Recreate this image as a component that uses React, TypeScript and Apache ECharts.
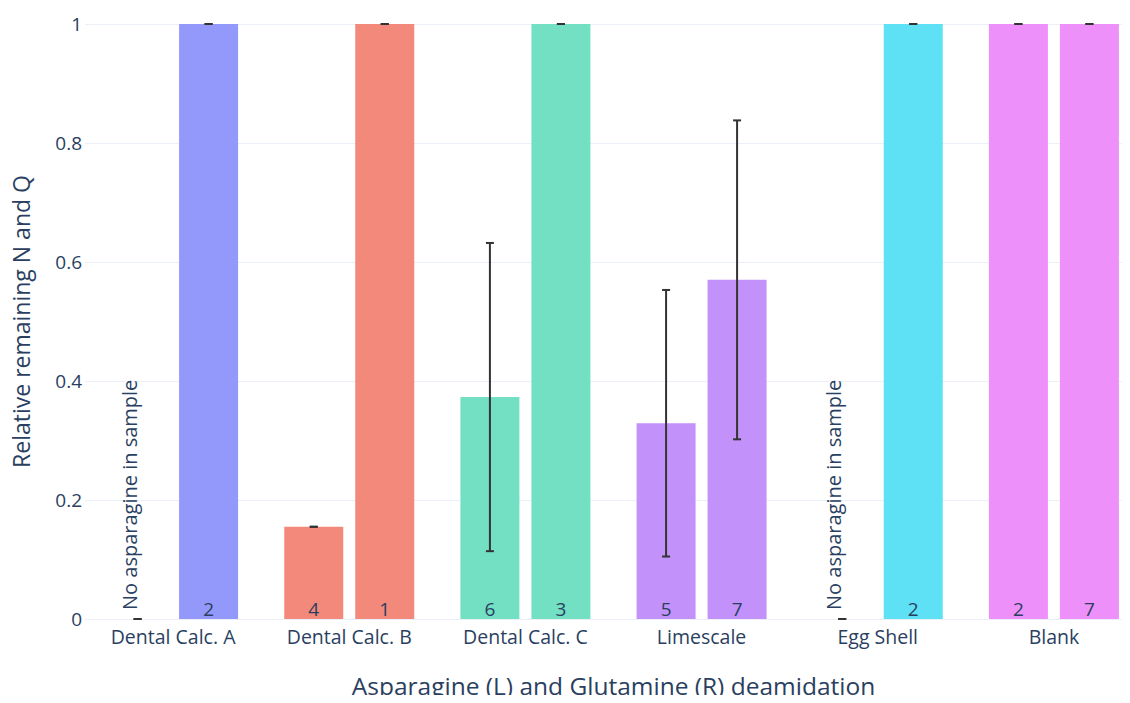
import React, { useEffect, useRef } from "react";
import * as echarts from "echarts";

const categories = ["Dental Calc. A", "Dental Calc. B", "Dental Calc. C", "Limescale", "Egg Shell", "Blank"];
const asnValues = [0, 0.155, 0.373, 0.329, 0, 1];
const asnErrors = [0, 0, 0.259, 0.224, 0, 0];
const asnCounts = ["", "4", "6", "5", "", "2"];
const glnValues = [1, 1, 1, 0.57, 1, 1];
const glnErrors = [0, 0, 0, 0.268, 0, 0];
const glnCounts = ["2", "1", "3", "7", "2", "7"];
const noAsnText = "No asparagine in sample";
const barColors = ["#9399fb", "#f2897a", "#73e0c4", "#c391fa", "#5ee1f5", "#ee90fa"];
const yTicks = [0, 0.2, 0.4, 0.6, 0.8, 1];

const FONT = "Open Sans";
const TEXT = "#2a3f5f";
const BAR_W = 59;
const BAR_GAP = 12;

export default function App() {
  const ref = useRef<HTMLDivElement>(null);
  useEffect(() => {
    if (!ref.current) return;
    const chart = echarts.init(ref.current, undefined, { renderer: "svg" });
    const offset = (BAR_W + BAR_GAP) / 2;

    const makeErr = (vals: number[], errs: number[], dir: number) => ({
      type: "custom",
      silent: true,
      z: 10,
      data: vals.map((v, i) => [i, v, errs[i]]),
      renderItem: (params: any, api: any) => {
        const i = api.value(0);
        const v = api.value(1);
        const e = api.value(2);
        const top = api.coord([i, v + e]);
        const bot = api.coord([i, Math.max(0, v - e)]);
        const x = top[0] + dir * offset;
        const cap = 4;
        const style = { stroke: "#333", lineWidth: 2 };
        return {
          type: "group",
          children: [
            { type: "line", shape: { x1: x, y1: top[1], x2: x, y2: bot[1] }, style },
            { type: "line", shape: { x1: x - cap, y1: top[1], x2: x + cap, y2: top[1] }, style },
            { type: "line", shape: { x1: x - cap, y1: bot[1], x2: x + cap, y2: bot[1] }, style },
          ],
        };
      },
    });

    const countLabel = {
      show: true,
      position: "insideBottom",
      distance: 1,
      color: TEXT,
      fontFamily: FONT,
      fontSize: 19,
    };

    chart.setOption({
      animation: false,
      grid: { left: 85, width: 1057, top: 24, height: 595, outerBoundsMode: "none", containLabel: false },
      xAxis: {
        type: "category",
        data: categories,
        axisLine: { show: true, lineStyle: { color: "#ebf0f8" } },
        axisTick: { show: false },
        axisLabel: { color: TEXT, fontFamily: FONT, fontSize: 19.5, margin: 7 },
        name: "Asparagine (L) and Glutamine (R) deamidation",
        nameLocation: "middle",
        nameGap: 53,
        nameTextStyle: { color: TEXT, fontFamily: FONT, fontSize: 24.5, lineHeight: 26 },
      },
      yAxis: {
        type: "value",
        min: 0,
        max: 1,
        interval: 0.2,
        axisLine: { show: false },
        axisTick: { show: false },
        splitLine: { lineStyle: { color: "#ebf0f8", width: 1 } },
        axisLabel: {
          color: TEXT,
          fontFamily: FONT,
          fontSize: 19,
          margin: 3,
          formatter: (v: number) => {
            const t = yTicks.find((k) => Math.abs(k - v) < 1e-9);
            return t === undefined ? "" : String(t);
          },
        },
        name: "Relative remaining N and Q",
        nameLocation: "middle",
        nameGap: 53,
        nameTextStyle: { color: TEXT, fontFamily: FONT, fontSize: 23 },
      },
      series: [
        {
          type: "bar",
          barWidth: BAR_W,
          barGap: `${(BAR_GAP / BAR_W) * 100}%`,
          data: asnValues.map((v, i) => ({
            value: v,
            itemStyle: { color: barColors[i] },
            label:
              asnCounts[i] === ""
                ? {
                    show: true,
                    formatter: noAsnText,
                    rotate: 90,
                    position: [21, -9],
                    align: "left",
                    verticalAlign: "middle",
                    color: TEXT,
                    fontFamily: FONT,
                    fontSize: 20,
                  }
                : { ...countLabel, formatter: asnCounts[i] },
          })),
        },
        {
          type: "bar",
          barWidth: BAR_W,
          data: glnValues.map((v, i) => ({
            value: v,
            itemStyle: { color: barColors[i] },
            label: { ...countLabel, formatter: glnCounts[i] },
          })),
        },
        makeErr(asnValues, asnErrors, -1),
        makeErr(glnValues, glnErrors, 1),
      ],
    });
    return () => chart.dispose();
  }, []);
  return (
    <div style={{ width: 1130, height: 703, margin: -8, overflow: "hidden" }}>
      <div ref={ref} style={{ width: 1130, height: 703 }} />
    </div>
  );
}
